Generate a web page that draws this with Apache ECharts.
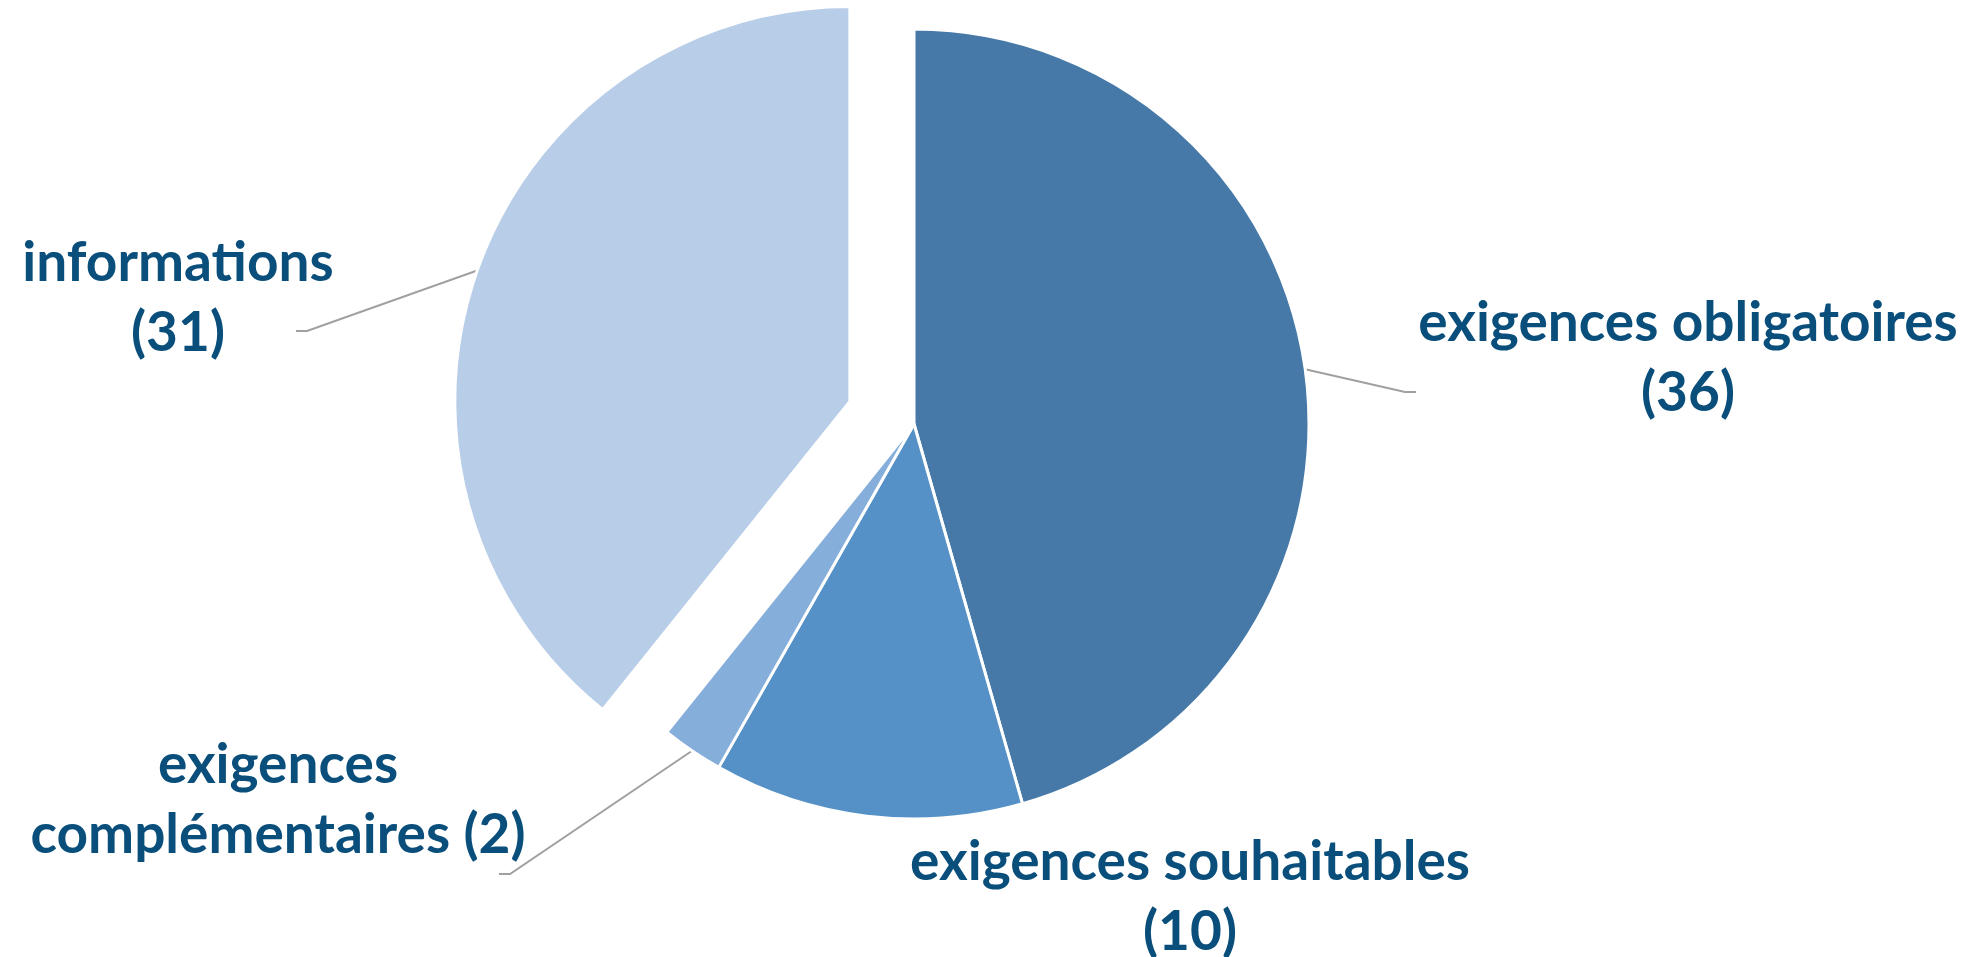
<!DOCTYPE html>
<html>
<head>
<meta charset="utf-8">
<script src="https://cdn.jsdelivr.net/npm/echarts@6/dist/echarts.min.js"></script>
<style>
html, body { margin: 0; padding: 0; background: #fff; }
#chart { width: 1981px; height: 957px; }
</style>
</head>
<body>
<div id="chart"></div>
<script>
// données
var categories = ['exigences obligatoires', 'exigences souhaitables', 'exigences\ncomplémentaires', 'informations'];
var values = [36, 10, 2, 31];
var colors = ['#4779a8', '#5591c7', '#86aedb', '#b8cde7'];
var exploded = [false, false, false, true];

// position des étiquettes (centre du bloc) et coude des traits de rappel
var labelPos = [[1688, 358], [1190, 897], [278, 800], [178, 298]];
var lineElbow = [[[1405, 392], [1416, 392]], null, [[510, 874], [499, 874]], [[307, 331], [296, 331]]];

var center = [914, 424];
var radius = 395;
var explodeDist = 68;

var myChart = echarts.init(document.getElementById('chart'));

// centre décalé pour la part détachée (angle médian de la part)
var total = values.reduce(function (a, b) { return a + b; }, 0);
var acc = 0, explodedCenter = center;
for (var k = 0; k < values.length; k++) {
  var mid = (acc + values[k] / 2) / total * 2 * Math.PI;
  if (exploded[k]) {
    explodedCenter = [center[0] + explodeDist * Math.sin(mid), center[1] - explodeDist * Math.cos(mid)];
  }
  acc += values[k];
}

function buildData(wantExploded) {
  var out = [];
  for (var i = 0; i < categories.length; i++) {
    var visible = exploded[i] === wantExploded;
    out.push({
      name: categories[i],
      value: values[i],
      itemStyle: visible ? { color: colors[i] } : { color: 'rgba(0,0,0,0)', borderWidth: 0 },
      label: { show: visible },
      labelLine: { show: visible && lineElbow[i] !== null }
    });
  }
  return out;
}

function makeSeries(c, wantExploded) {
  return {
    type: 'pie',
    center: c,
    radius: radius,
    startAngle: 90,
    clockwise: true,
    avoidLabelOverlap: false,
    silent: true,
    itemStyle: { borderColor: '#fff', borderWidth: 3 },
    emphasis: { disabled: true },
    label: {
      position: 'outside',
      fontFamily: 'Lato',
      fontWeight: 'bold',
      fontSize: 55,
      lineHeight: 70,
      color: '#0a4f7b',
      align: 'center',
      formatter: function (p) {
        var sep = p.name.indexOf('\n') >= 0 ? ' ' : '\n';
        return p.name + sep + '(' + p.value + ')';
      }
    },
    labelLine: {
      lineStyle: { color: '#a0a0a0', width: 2 }
    },
    labelLayout: function (params) {
      var i = params.dataIndex;
      var res = {
        x: labelPos[i][0],
        y: labelPos[i][1],
        align: 'center',
        verticalAlign: 'middle'
      };
      if (lineElbow[i] && params.labelLinePoints) {
        res.labelLinePoints = [params.labelLinePoints[0], lineElbow[i][0], lineElbow[i][1]];
      }
      return res;
    },
    data: buildData(wantExploded)
  };
}

var option = {
  animation: false,
  series: [makeSeries(center, false), makeSeries(explodedCenter, true)]
};

myChart.setOption(option);
window.addEventListener('resize', function () {
  myChart.resize();
});
</script>
</body>
</html>
